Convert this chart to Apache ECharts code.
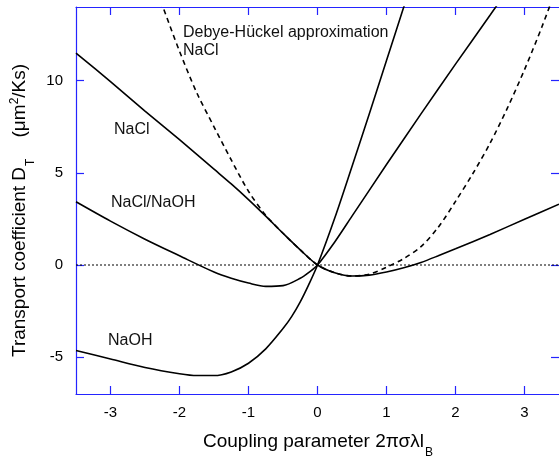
<!DOCTYPE html>
<html>
<head>
<meta charset="utf-8">
<script src="https://cdn.jsdelivr.net/npm/echarts@6/dist/echarts.min.js"></script>
<style>
html,body{margin:0;padding:0;background:#fff;}
#c{width:559px;height:458px;}
</style>
</head>
<body>
<div id="c"></div>
<script>
// ---- data ----
const xTicks = [-3, -2, -1, 0, 1, 2, 3];
const yTicks = [-5, 0, 5, 10];

const naclX = [-3.5, -3, -2.5, -2, -1.5, -1.25, -1, -0.75, -0.5, -0.25, 0, 0.25, 0.5, 0.75, 1, 1.25, 1.5, 1.75, 2, 2.5, 3, 3.5];
const naclY = [11.5, 9.95, 8.35, 6.8, 5.2, 4.4, 3.55, 2.65, 1.72, 0.82, 0, -0.42, -0.6, -0.55, -0.38, -0.15, 0.14, 0.5, 0.88, 1.66, 2.48, 3.3];

const mixX = [-3.5, -3, -2.5, -2, -1.5, -1.25, -1, -0.75, -0.5, -0.25, -0.125, 0, 0.25, 0.5, 1, 1.5, 2, 2.5, 2.75];
const mixY = [3.43, 2.38, 1.4, 0.5, -0.38, -0.72, -0.98, -1.16, -1.12, -0.72, -0.4, 0, 1.25, 2.65, 5.45, 8.2, 10.9, 13.55, 14.9];

const naohX = [-3.5, -3, -2.5, -2, -1.75, -1.5, -1.25, -1, -0.75, -0.5, -0.375, -0.25, -0.125, 0, 0.25, 0.5, 0.75, 1, 1.25, 1.4];
const naohY = [-4.64, -5.1, -5.56, -5.9, -6.0, -6.0, -5.8, -5.33, -4.55, -3.45, -2.8, -2.0, -1.05, 0, 2.55, 5.35, 8.2, 11.1, 14.0, 15.8];

const dhX = [-2.5, -2.25, -2, -1.75, -1.5, -1.25, -1, -0.75, -0.5, -0.25, 0, 0.25, 0.5, 0.75, 1, 1.25, 1.5, 1.75, 2, 2.25, 2.5, 2.75, 3, 3.25, 3.5];
const dhY = [16.6, 14.1, 11.6, 9.35, 7.5, 5.7, 4.0, 2.7, 1.72, 0.82, 0, -0.42, -0.6, -0.5, -0.12, 0.35, 1.0, 2.05, 3.45, 4.95, 6.6, 8.5, 10.6, 12.9, 15.4];

const zeroX = [-3.5, 3.5];
const zeroY = [0, 0];

const xMin = -3.5, xMax = 3.5, yMin = -7, yMax = 14;

// ---- styling ----
const FONT = 'Liberation Sans, Arial, Helvetica, sans-serif';
const BLUE = '#2424ff';

function pairs(xs, ys) { return xs.map((x, i) => [x, ys[i]]); }

function xAx(pos, labels) {
  return {
    type: 'value', min: xMin, max: xMax, position: pos,
    axisLine: { show: true, onZero: false, lineStyle: { color: BLUE, width: 1.2 } },
    axisTick: { show: true, inside: true, length: 8, customValues: xTicks, lineStyle: { color: BLUE, width: 1.2 } },
    axisLabel: { show: labels, customValues: xTicks, margin: 11, fontSize: 15, color: '#000', fontFamily: FONT },
    splitLine: { show: false }
  };
}
function yAx(pos, labels, line) {
  return {
    type: 'value', min: yMin, max: yMax, position: pos,
    axisLine: { show: line, onZero: false, lineStyle: { color: BLUE, width: 1.2 } },
    axisTick: { show: true, inside: true, length: 8, customValues: yTicks, lineStyle: { color: BLUE, width: 1.2 } },
    axisLabel: { show: labels, customValues: yTicks, margin: 13, fontSize: 15, color: '#000', fontFamily: FONT },
    splitLine: { show: false }
  };
}
function curve(name, xs, ys, dashed) {
  return {
    name: name, type: 'line', data: pairs(xs, ys), showSymbol: false, smooth: 0.3,
    clip: true, silent: true,
    lineStyle: { color: '#000', width: 1.6, type: dashed ? [5, 4] : 'solid' }
  };
}

const mainRich = {
  m: { fontSize: 19, fontFamily: FONT, color: '#000', lineHeight: 36, verticalAlign: 'middle' },
  sub: { fontSize: 12, fontFamily: FONT, color: '#000', verticalAlign: 'middle', padding: [22, 0, 0, 1] },
  sup: { fontSize: 12, fontFamily: FONT, color: '#000', verticalAlign: 'middle', padding: [0, 0, 10, 0] }
};

function note(text, x, y) {
  return {
    type: 'text', x: x, y: y, silent: true,
    style: { text: text, fill: '#111', fontSize: 16, fontFamily: FONT,
      align: 'left', verticalAlign: 'middle', textAlign: 'left', textVerticalAlign: 'middle' }
  };
}

const chart = echarts.init(document.getElementById('c'), null, { renderer: 'canvas' });
chart.setOption({
  animation: false,
  backgroundColor: '#fff',
  grid: { left: 76, right: 0, top: 7, bottom: 64 },
  xAxis: [xAx('bottom', true), xAx('top', false)],
  yAxis: [yAx('left', true, true), yAx('right', false, false)],
  series: [
    {
      name: 'zero', type: 'line', data: pairs(zeroX, zeroY), showSymbol: false, silent: true,
      lineStyle: { color: '#000', width: 1, type: [2, 2] }
    },
    curve('NaCl', naclX, naclY, false),
    curve('NaCl/NaOH', mixX, mixY, false),
    curve('NaOH', naohX, naohY, false),
    curve('Debye-Hückel approximation NaCl', dhX, dhY, true)
  ],
  graphic: [
    note('Debye-Hückel approximation', 183, 33),
    note('NaCl', 183, 51),
    note('NaCl', 114, 130),
    note('NaCl/NaOH', 111, 203),
    note('NaOH', 108, 341),
    {
      type: 'text', x: 20, y: 357, rotation: Math.PI / 2, silent: true,
      style: {
        text: '{m|Transport coefficient D}{sub|T}{m|    (μm}{sup|2}{m|/Ks)}',
        rich: mainRich, fill: '#000', fontSize: 19, fontFamily: FONT,
        align: 'left', verticalAlign: 'middle', textAlign: 'left', textVerticalAlign: 'middle'
      }
    },
    {
      type: 'text', x: 203, y: 442, silent: true,
      style: {
        text: '{m|Coupling parameter 2πσλl}{sub|B}',
        rich: mainRich, fill: '#000', fontSize: 19, fontFamily: FONT,
        align: 'left', verticalAlign: 'middle', textAlign: 'left', textVerticalAlign: 'middle'
      }
    }
  ]
});
</script>
</body>
</html>
